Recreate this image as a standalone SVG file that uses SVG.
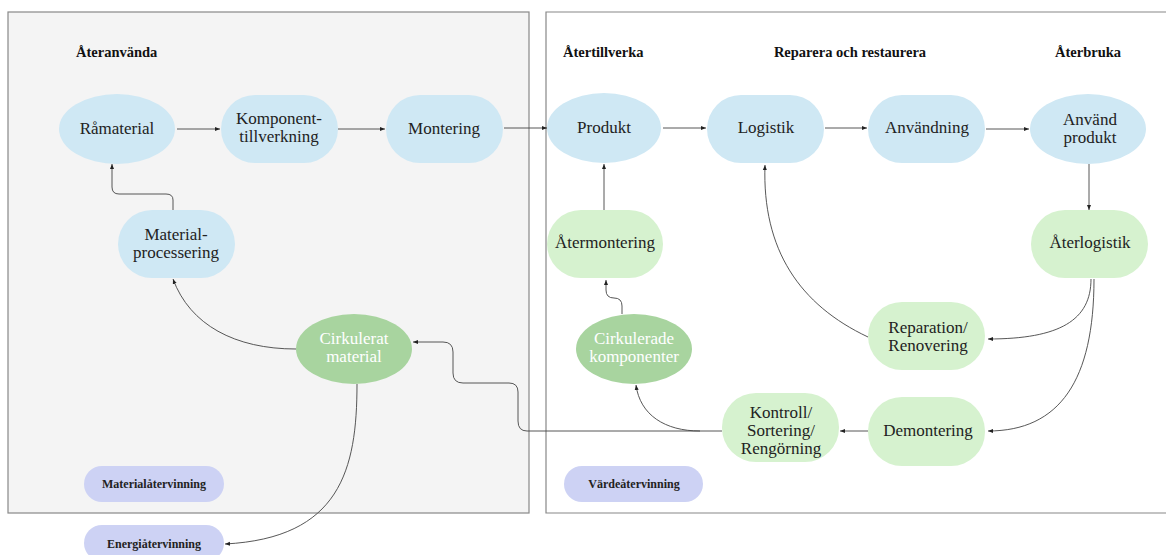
<svg xmlns="http://www.w3.org/2000/svg" width="1166" height="555" viewBox="0 0 1166 555">
<defs>
<style>
.t{font-family:"Liberation Serif","Times New Roman",serif;font-size:17px;fill:#222;text-anchor:middle}
.w{fill:#fff}
.h{font-family:"Liberation Serif","Times New Roman",serif;font-size:14.5px;font-weight:bold;fill:#111}
.s{font-family:"Liberation Serif","Times New Roman",serif;font-size:12px;font-weight:bold;fill:#222;text-anchor:middle}
.blue{fill:#cfe8f4}
.lg{fill:#d6f2cf}
.dg{fill:#a8d49f}
.lav{fill:#cdd2f4}
.c{fill:none;stroke:#444;stroke-width:0.9}
</style>
<marker id="a" viewBox="0 0 10 10" refX="10" refY="5" markerWidth="5" markerHeight="5" orient="auto" markerUnits="userSpaceOnUse">
<path d="M0,1 L10,5 L0,9 z" fill="#222"/>
</marker>
</defs>
<rect width="1166" height="555" fill="#fff"/>
<g id="frames">
<rect x="8" y="12" width="521" height="501" fill="#f4f4f4" stroke="#888" stroke-width="1.2"/>
<path d="M1168,12 H546 V513 H1168" fill="#fff" stroke="#888" stroke-width="1.2"/>
</g>
<g id="headers">
<text class="h" x="76" y="57">Återanvända</text>
<text class="h" x="563" y="57">Återtillverka</text>
<text class="h" x="850" y="57" text-anchor="middle">Reparera och restaurera</text>
<text class="h" x="1088" y="57" text-anchor="middle">Återbruka</text>
</g>
<g id="connectors">
<path class="c" d="M177,129 H220" marker-end="url(#a)"/>
<path class="c" d="M338,129 H385" marker-end="url(#a)"/>
<path class="c" d="M504,128 H547" marker-end="url(#a)"/>
<path class="c" d="M663,128 H706" marker-end="url(#a)"/>
<path class="c" d="M825,128 H867" marker-end="url(#a)"/>
<path class="c" d="M986,129 H1029" marker-end="url(#a)"/>
<path class="c" d="M1089,164 V210" marker-end="url(#a)"/>
<path class="c" d="M604,210 V164" marker-end="url(#a)"/>
<path class="c" d="M173,210 V200 Q173,194 166,194 H119 Q112,194 112,187 V164" marker-end="url(#a)"/>
<path class="c" d="M296,349 C235,349 190,325 173,279" marker-end="url(#a)"/>
<path class="c" d="M357,384 C357,470 340,538 225,544" marker-end="url(#a)"/>
<path class="c" d="M722,431 H700 C665,431 640,415 636,385" marker-end="url(#a)"/>
<path class="c" d="M700,431 H527 Q518,431 518,421 V392 Q518,383 509,383 H463 Q453,383 453,373 V352 Q453,342 443,342 H413" marker-end="url(#a)"/>
<path class="c" d="M622,314 V306 Q622,298 614,298 Q606,298 606,290 V280" marker-end="url(#a)"/>
<path class="c" d="M868,337 C800,305 762,250 765,165" marker-end="url(#a)"/>
<path class="c" d="M1091,279 C1091,320 1060,339 988,339" marker-end="url(#a)"/>
<path class="c" d="M1094,279 C1094,380 1060,431 988,431" marker-end="url(#a)"/>
<path class="c" d="M868,431 H840" marker-end="url(#a)"/>
</g>
<g id="ramaterial"><ellipse class="blue" cx="117" cy="129" rx="58" ry="35"/><text class="t" x="117" y="134">Råmaterial</text></g>
<g id="komponenttillverkning"><rect class="blue" x="221" y="95" width="117" height="68" rx="34"/><text class="t" x="279" y="124">Komponent-</text><text class="t" x="279" y="142">tillverkning</text></g>
<g id="montering"><rect class="blue" x="386" y="95" width="117" height="68" rx="34"/><text class="t" x="444" y="134">Montering</text></g>
<g id="materialprocessering"><rect class="blue" x="118" y="210" width="117" height="68" rx="34"/><text class="t" x="176" y="240">Material-</text><text class="t" x="176" y="258">processering</text></g>
<g id="cirkuleratmaterial"><ellipse class="dg" cx="354" cy="349" rx="58" ry="35"/><text class="t w" x="354" y="344">Cirkulerat</text><text class="t w" x="354" y="362">material</text></g>
<g id="materialatervinning"><rect class="lav" x="84" y="466" width="140" height="36" rx="18"/><text class="s" x="154" y="488">Materialåtervinning</text></g>
<g id="energiatervinning"><rect class="lav" x="84" y="525" width="140" height="36" rx="18"/><text class="s" x="154" y="548">Energiåtervinning</text></g>
<g id="produkt"><ellipse class="blue" cx="604" cy="128" rx="57" ry="35"/><text class="t" x="604" y="133">Produkt</text></g>
<g id="logistik"><rect class="blue" x="707" y="95" width="117" height="68" rx="34"/><text class="t" x="766" y="133">Logistik</text></g>
<g id="anvandning"><rect class="blue" x="868" y="95" width="117" height="68" rx="34"/><text class="t" x="927" y="133">Användning</text></g>
<g id="anvandprodukt"><ellipse class="blue" cx="1088" cy="129" rx="58" ry="35"/><text class="t" x="1090" y="125">Använd</text><text class="t" x="1090" y="143">produkt</text></g>
<g id="atermontering"><rect class="lg" x="547" y="210" width="116" height="68" rx="34"/><text class="t" x="605" y="248">Återmontering</text></g>
<g id="aterlogistik"><rect class="lg" x="1031" y="210" width="117" height="68" rx="34"/><text class="t" x="1090" y="248">Återlogistik</text></g>
<g id="cirkuleradekomponenter"><ellipse class="dg" cx="634" cy="349" rx="58" ry="35"/><text class="t w" x="634" y="344">Cirkulerade</text><text class="t w" x="634" y="362">komponenter</text></g>
<g id="reparation"><rect class="lg" x="868" y="302" width="117" height="68" rx="34"/><text class="t" x="928" y="333">Reparation/</text><text class="t" x="928" y="351">Renovering</text></g>
<g id="kontroll"><rect class="lg" x="722" y="393" width="117" height="69" rx="34"/><text class="t" x="781" y="418">Kontroll/</text><text class="t" x="781" y="436">Sortering/</text><text class="t" x="781" y="454">Rengörning</text></g>
<g id="demontering"><rect class="lg" x="868" y="397" width="117" height="69" rx="34"/><text class="t" x="928" y="436">Demontering</text></g>
<g id="vardeatervinning"><rect class="lav" x="564" y="466" width="139" height="36" rx="18"/><text class="s" x="634" y="488">Värdeåtervinning</text></g>
</svg>
